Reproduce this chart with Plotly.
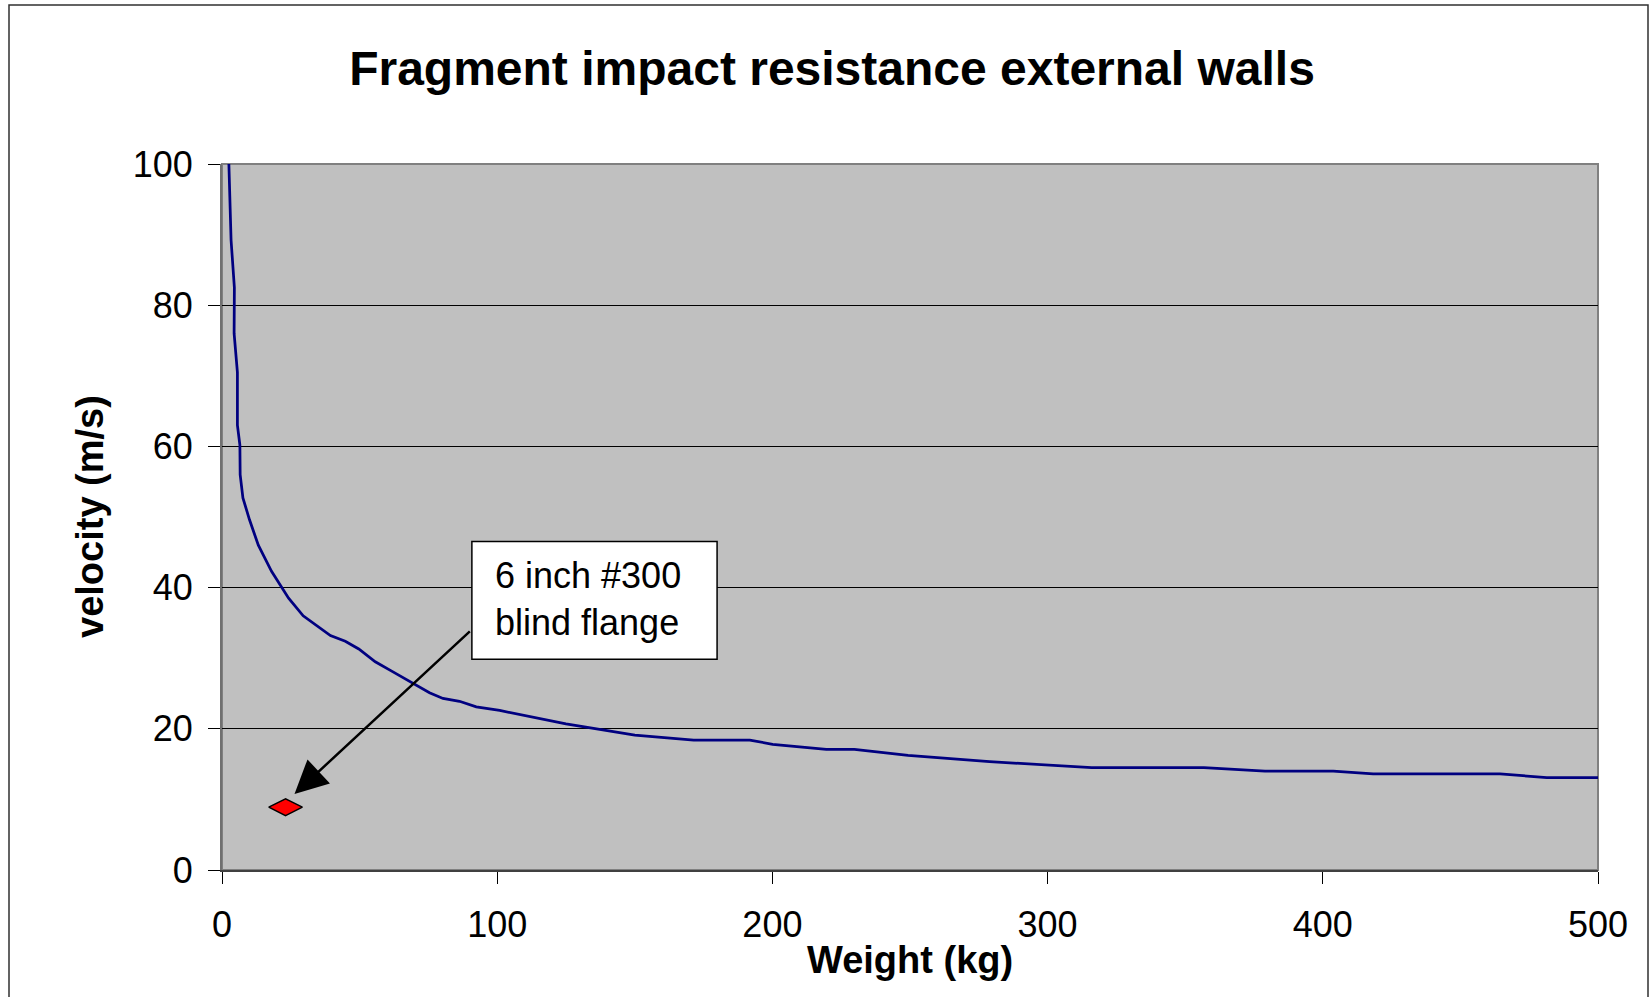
import plotly.graph_objects as go

# ---- data ----
weight_kg = [2.5, 3.3, 4.5, 4.4, 5.6, 5.6, 5.6, 6.5, 6.6, 7.6, 10, 13.2, 18, 24.2,
             29.5, 39.4, 44.8, 49.7, 55.7, 61.5, 69.4, 75.4, 80.3, 86.3, 92.4,
             100.9, 125, 150, 171.4, 191.8, 200.1, 219.6, 229.8, 249.3, 278.9,
             300.3, 316, 356.8, 379, 403.8, 418.3, 464.4, 481.4, 500]
velocity_ms = [100, 89.2, 82.5, 76, 70.5, 66, 63, 60.2, 56, 52.7, 49.6, 46, 42.3,
               38.5, 36, 33.2, 32.4, 31.3, 29.5, 28.2, 26.5, 25.1, 24.3, 23.9,
               23.1, 22.6, 20.7, 19.1, 18.4, 18.4, 17.8, 17.1, 17.1, 16.25, 15.35,
               14.9, 14.5, 14.5, 14.0, 14.0, 13.6, 13.6, 13.1, 13.1]
flange_weight = [23.1]
flange_velocity = [8.9]
x_ticks = [0, 100, 200, 300, 400, 500]
y_ticks = [0, 20, 40, 60, 80, 100]
title_text = "Fragment impact resistance external walls"
x_title = "Weight (kg)"
y_title = "velocity (m/s)"
flange_label = "6 inch #300<br>blind flange"

FONT = "Arial, 'Liberation Sans', sans-serif"

fig = go.Figure()
fig.add_trace(go.Scatter(x=weight_kg, y=velocity_ms, mode="lines",
                         line=dict(color="#000080", width=2.75),
                         name="resistance", showlegend=False, cliponaxis=True))
fig.add_trace(go.Scatter(x=flange_weight, y=flange_velocity, mode="markers",
                         marker=dict(symbol="diamond-wide", size=24, color="#FF0000",
                                     line=dict(color="#000000", width=1.5)),
                         name="6 inch #300 blind flange", showlegend=False))

W, H = 1652, 997
ml, mr, mt, mb = 222, 54, 164, 127
pw, ph = W - ml - mr, H - mt - mb

def px_x(p):
    return (p - ml) / pw

def px_y(p):
    return (H - mb - p) / ph

fig.update_layout(
    width=W, height=H,
    margin=dict(l=ml, r=mr, t=mt, b=mb, pad=0),
    paper_bgcolor="#FFFFFF",
    plot_bgcolor="#C0C0C0",
    font=dict(family=FONT, color="#000000", size=36),
    title=dict(text="<b>" + title_text + "</b>", font=dict(size=48, family=FONT),
               x=832 / W, xanchor="center", xref="container",
               y=1 - 68.5 / H, yanchor="middle", yref="container"),
    xaxis=dict(range=[0, 500], tickvals=x_ticks, ticks="outside", ticklen=12,
               tickcolor="#000000", tickwidth=1, showgrid=False, zeroline=False,
               showline=True, linecolor="#404040", linewidth=2,
               ticklabelstandoff=10,
               tickfont=dict(size=36, family=FONT)),
    yaxis=dict(range=[0, 100], tickvals=y_ticks, ticks="outside", ticklen=12,
               tickcolor="#000000", tickwidth=1, showgrid=True, gridcolor="#000000",
               gridwidth=1, zeroline=False, showline=True, linecolor="#707070",
               linewidth=2, ticklabelstandoff=8,
               tickfont=dict(size=36, family=FONT)),
    shapes=[
        dict(type="rect", xref="paper", yref="paper", x0=0, x1=1, y0=0, y1=1,
             line=dict(color="#808080", width=2), layer="below"),
        dict(type="rect", xref="paper", yref="paper",
             x0=px_x(9), x1=px_x(1648), y0=px_y(1010), y1=px_y(5),
             line=dict(color="#303030", width=1.5), layer="below"),
        # label box
        dict(type="rect", xref="x", yref="y", x0=90.8, x1=179.9, y0=29.86, y1=46.52,
             fillcolor="#FFFFFF", line=dict(color="#000000", width=1.5),
             layer="above"),
    ],
    annotations=[
        dict(text="<b>" + x_title + "</b>", xref="paper", yref="paper",
             x=0.5, y=px_y(960), xanchor="center", yanchor="middle",
             showarrow=False, font=dict(size=38, family=FONT)),
        dict(text="<b>" + y_title + "</b>", xref="paper", yref="paper",
             x=px_x(90), y=0.5, xanchor="center", yanchor="middle", textangle=-90,
             showarrow=False, font=dict(size=38, family=FONT)),
        dict(text=flange_label, xref="x", yref="y", x=98.4, y=38.4,
             xanchor="left", yanchor="middle", showarrow=False, align="left",
             font=dict(size=36, family=FONT)),
        dict(text="", xref="x", yref="y", x=26.35, y=10.77,
             axref="x", ayref="y", ax=90.6, ay=34.0, showarrow=True,
             arrowhead=2, arrowsize=2.64, arrowwidth=2.5, arrowcolor="#000000",
             standoff=0, startstandoff=0),
    ],
)

fig.write_html("out.html", config={"displayModeBar": False},
               post_script="document.body.style.margin='0';")
